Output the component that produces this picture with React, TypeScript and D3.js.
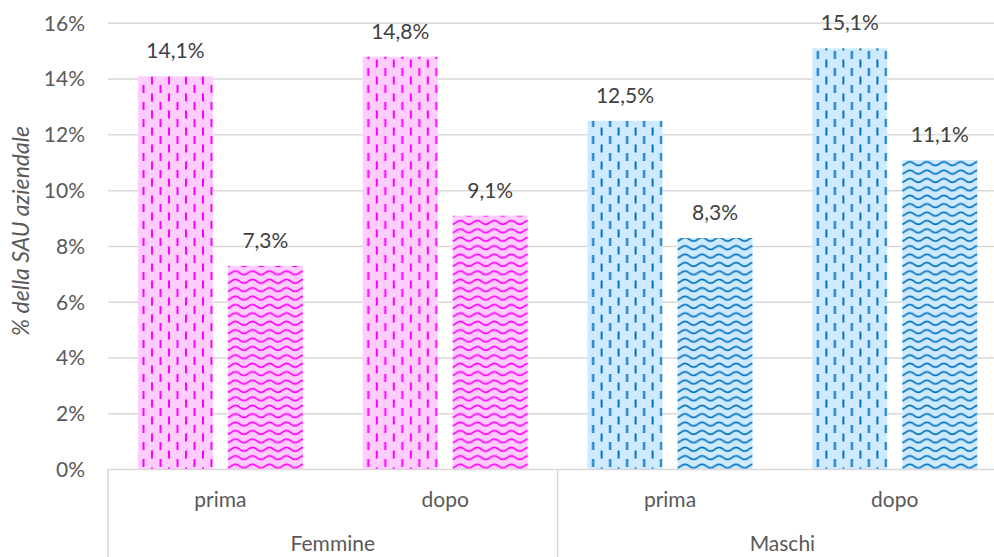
import React from "react";
import * as d3 from "d3";

const groups = ["Femmine", "Maschi"];
const periods = ["prima", "dopo"];
const series = ["a", "b"];
// values in percent, order: group -> period -> [series a, series b]
const femmineValues = [
  [14.1, 7.3],
  [14.8, 9.1],
];
const maschiValues = [
  [12.5, 8.3],
  [15.1, 11.1],
];
const yTicks = [0, 2, 4, 6, 8, 10, 12, 14, 16];
const yTitle = "% della SAU aziendale";

const W = 994;
const H = 557;
const left = 108;
const right = 1007.2;
const yTop = 23.3;
const yBottom = 469.5;

const FONT = "Lato, 'Open Sans', sans-serif";
const FS = 21;

const colors: Record<string, { bg: string; fg: string }> = {
  Femmine: { bg: "#ffccff", fg: "#ff00ff" },
  Maschi: { bg: "#cdeaff", fg: "#0070c0" },
};

const fmt = (v: number) => v.toFixed(1).replace(".", ",") + "%";

export default function App() {
  const cats: { group: string; period: string; values: number[] }[] = [];
  groups.forEach((g, gi) => {
    const vals = gi === 0 ? femmineValues : maschiValues;
    periods.forEach((p, pi) => cats.push({ group: g, period: p, values: vals[pi] }));
  });
  const catKeys = cats.map((c) => c.group + "|" + c.period);
  const x = d3.scaleBand<string>().domain(catKeys).range([left, right]).padding(0);
  const bw = x.bandwidth();
  const inner = d3
    .scaleBand<string>()
    .domain(series)
    .range([(bw - 165) / 2, (bw + 165) / 2])
    .paddingInner(1 / 6)
    .paddingOuter(0);
  const y = d3.scaleLinear().domain([0, 16]).range([yBottom, yTop]);
  const gx = d3.scaleBand<string>().domain(groups).range([left, right]).padding(0);

  const patternId = (g: string, s: string) => `pat-${g}-${s}`;

  return (
    <div style={{ position: "fixed", left: 0, top: 0 }}>
      <svg width={W} height={H} style={{ display: "block", background: "#fff" }}>
        <defs>
          {groups.map((g) => (
            <React.Fragment key={g}>
              <pattern id={patternId(g, "a")} patternUnits="userSpaceOnUse" width={17} height={17}>
                <rect width={17} height={17} fill={colors[g].bg} />
                <rect x={0.5} y={0} width={2} height={8} fill={colors[g].fg} />
                <rect x={9} y={8.5} width={2} height={8} fill={colors[g].fg} />
              </pattern>
              <pattern id={patternId(g, "b")} patternUnits="userSpaceOnUse" width={17} height={8.4}>
                <rect width={17} height={8.4} fill={colors[g].bg} />
                <path
                  d="M0,6 C4,6 4.5,2.2 8.5,2.2 C12.5,2.2 13,6 17,6"
                  fill="none"
                  stroke={colors[g].fg}
                  strokeWidth={1.7}
                />
              </pattern>
            </React.Fragment>
          ))}
        </defs>

        {/* gridlines */}
        {yTicks.slice(1).map((t) => (
          <line key={t} x1={left} x2={W} y1={y(t)} y2={y(t)} stroke="#d9d9d9" strokeWidth={1.5} />
        ))}

        {/* y tick labels */}
        {yTicks.map((t) => (
          <text
            key={t}
            x={85}
            y={y(t)}
            dy="0.35em"
            textAnchor="end"
            fontFamily={FONT}
            fontSize={FS}
            fill="#595959"
          >
            {t}%
          </text>
        ))}

        {/* y title */}
        <text
          transform={`translate(29,231) rotate(-90)`}
          textAnchor="middle"
          fontFamily={FONT}
          fontSize={23}
          fontStyle="italic"
          fill="#595959"
        >
          {yTitle}
        </text>

        {/* bars */}
        {cats.map((c, ci) => (
          <g key={ci} transform={`translate(${x(catKeys[ci])},0)`}>
            {c.values.map((v, si) => (
              <g key={si}>
                <rect
                  x={inner(series[si])}
                  y={y(v)}
                  width={inner.bandwidth()}
                  height={y(0) - y(v)}
                  fill={`url(#${patternId(c.group, series[si])})`}
                />
                <text
                  x={(inner(series[si]) as number) + inner.bandwidth() / 2}
                  y={y(v) - 18}
                  textAnchor="middle"
                  fontFamily={FONT}
                  fontSize={FS}
                  fill="#404040"
                >
                  {fmt(v)}
                </text>
              </g>
            ))}
          </g>
        ))}

        {/* axis line */}
        <line x1={left} x2={W} y1={yBottom} y2={yBottom} stroke="#d9d9d9" strokeWidth={1.5} />
        {/* group dividers */}
        {groups.map((g) => (
          <line
            key={g}
            x1={gx(g) as number}
            x2={gx(g) as number}
            y1={yBottom}
            y2={H}
            stroke="#d9d9d9"
            strokeWidth={1.5}
          />
        ))}

        {/* period labels */}
        {cats.map((c, ci) => (
          <text
            key={ci}
            x={(x(catKeys[ci]) as number) + bw / 2}
            y={507}
            textAnchor="middle"
            fontFamily={FONT}
            fontSize={FS}
            fill="#595959"
          >
            {c.period}
          </text>
        ))}

        {/* group labels */}
        {groups.map((g) => (
          <text
            key={g}
            x={(gx(g) as number) + gx.bandwidth() / 2}
            y={551}
            textAnchor="middle"
            fontFamily={FONT}
            fontSize={FS}
            fill="#595959"
          >
            {g}
          </text>
        ))}
      </svg>
    </div>
  );
}
